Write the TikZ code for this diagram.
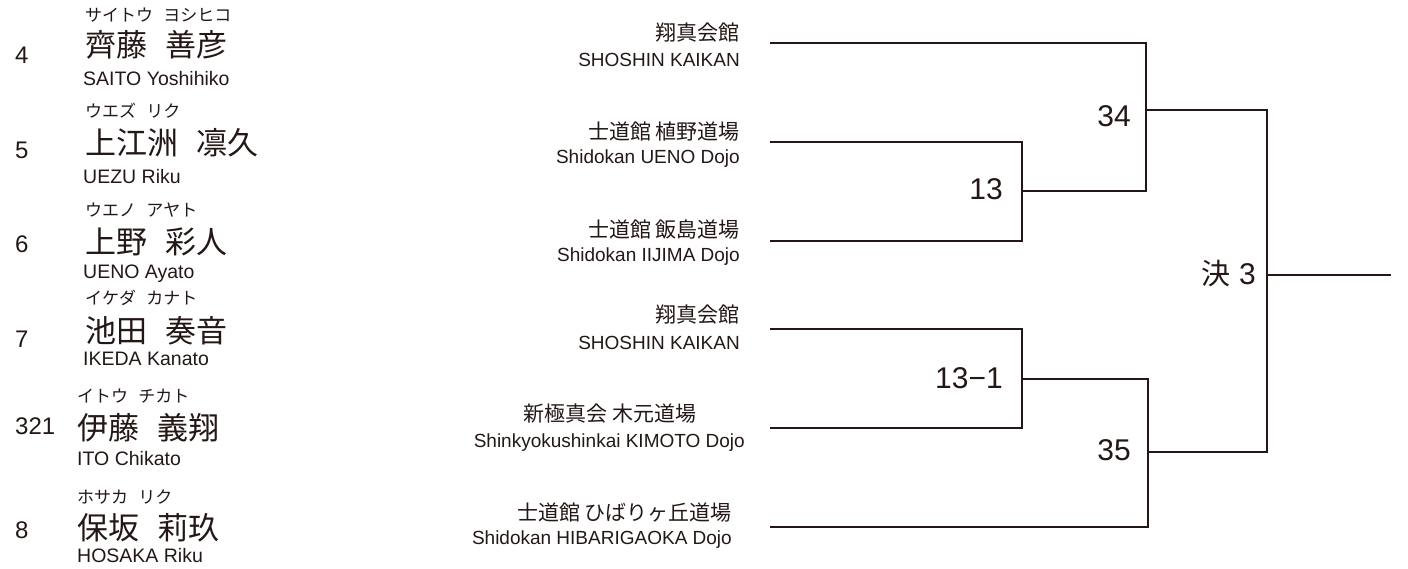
\documentclass[tikz,border=0pt]{standalone}
\usepackage{fontspec}
\setmainfont{Liberation Sans}
\newfontfamily\jpfont{Noto Sans CJK JP}
\definecolor{ink}{RGB}{35,24,21}
\newcommand{\nmgap}{\hspace{0.6em}}

\begin{document}
\begin{tikzpicture}[x=1pt,y=-1pt,
  every node/.style={inner sep=0pt,text=ink},
  seed/.style={font=\fontsize{24}{24}\selectfont,anchor=base west},
  kana/.style={font=\jpfont\fontsize{17}{17}\selectfont,anchor=base west},
  kanji/.style={font=\jpfont\fontsize{31}{31}\selectfont,anchor=base west},
  roman/.style={font=\fontsize{19.5}{19.5}\selectfont,anchor=base west},
  dojo/.style={font=\jpfont\fontsize{21}{21}\selectfont,anchor=base east},
  dojoen/.style={font=\fontsize{19}{19}\selectfont,anchor=base east},
  bout/.style={font=\fontsize{30}{30}\selectfont,anchor=base east},
  bline/.style={draw=ink,line width=2pt}]
\useasboundingbox (0,0) rectangle (1408,569);
% players
\node[seed] (s4) at (15,63.6) {4};
\node[kana] (r4) at (85,22) {サイトウ\nmgap ヨシヒコ};
\node[kanji] (n4) at (85,57) {齊藤\nmgap 善彦};
\node[roman] (e4) at (83,86) {SAITO Yoshihiko};
\node[seed] (s5) at (15,158.6) {5};
\node[kana] (r5) at (85,118) {ウエズ\nmgap リク};
\node[kanji] (n5) at (85,155) {上江洲\nmgap 凛久};
\node[roman] (e5) at (83,183.5) {UEZU Riku};
\node[seed] (s6) at (15,252.6) {6};
\node[kana] (r6) at (85,217) {ウエノ\nmgap アヤト};
\node[kanji] (n6) at (85,254) {上野\nmgap 彩人};
\node[roman] (e6) at (83,278.5) {UENO Ayato};
\node[seed] (s7) at (15,347.6) {7};
\node[kana] (r7) at (85,305) {イケダ\nmgap カナト};
\node[kanji] (n7) at (85,342) {池田\nmgap 奏音};
\node[roman] (e7) at (83,365.5) {IKEDA Kanato};
\node[seed] (s321) at (15,434) {321};
\node[kana] (r321) at (77,402) {イトウ\nmgap チカト};
\node[kanji] (n321) at (77,439) {伊藤\nmgap 義翔};
\node[roman] (e321) at (77,465) {ITO Chikato};
\node[seed] (s8) at (15,538.6) {8};
\node[kana] (r8) at (77,503.5) {ホサカ\nmgap リク};
\node[kanji] (n8) at (77,539) {保坂\nmgap 莉玖};
\node[roman] (e8) at (77,562) {HOSAKA Riku};
% dojos
\node[dojo] (d1) at (740,41) {翔真会館};
\node[dojoen] (d1e) at (740,67) {SHOSHIN KAIKAN};
\node[dojo] (d2) at (740,140) {士道館 植野道場};
\node[dojoen] (d2e) at (740,164) {Shidokan UENO Dojo};
\node[dojo] (d3) at (740,238) {士道館 飯島道場};
\node[dojoen] (d3e) at (740,262) {Shidokan IIJIMA Dojo};
\node[dojo] (d4) at (740,323) {翔真会館};
\node[dojoen] (d4e) at (740,349) {SHOSHIN KAIKAN};
\node[dojo,anchor=base] (d5) at (610,421) {新極真会 木元道場};
\node[dojoen] (d5e) at (745,447) {Shinkyokushinkai KIMOTO Dojo};
\node[dojo] (d6) at (732,520) {士道館 ひばりヶ丘道場};
\node[dojoen] (d6e) at (732,544) {Shidokan HIBARIGAOKA Dojo};
% bracket
\coordinate (t1) at (770,43);
\coordinate (t2) at (770,142);
\coordinate (t3) at (770,241);
\coordinate (t4) at (770,329);
\coordinate (t5) at (770,428);
\coordinate (t6) at (770,527);
\coordinate (m13) at (1022,191.5);
\coordinate (m34) at (1146,110);
\coordinate (m131) at (1022,378.5);
\coordinate (m35) at (1148,452);
\coordinate (mF) at (1267,275);
\coordinate (win) at (1391,275);
\draw[bline] (t2) -| (m13) |- (t3);
\draw[bline] (t1) -| (m34) |- (m13);
\draw[bline] (t4) -| (m131) |- (t5);
\draw[bline] (m131) -| (m35) |- (t6);
\draw[bline] (m34) -| (mF) |- (m35);
\draw[bline] (mF) -- (win);
\node[bout] (b13) at (1003,200) {13};
\node[bout] (b34) at (1131,126.7) {34};
\node[bout] (b131) at (1003,388) {13−1};
\node[bout] (b35) at (1131,460) {35};
\node[bout] (bF) at (1256,285) {{\jpfont\fontsize{29}{29}\selectfont 決} 3};
\end{tikzpicture}
\end{document}
